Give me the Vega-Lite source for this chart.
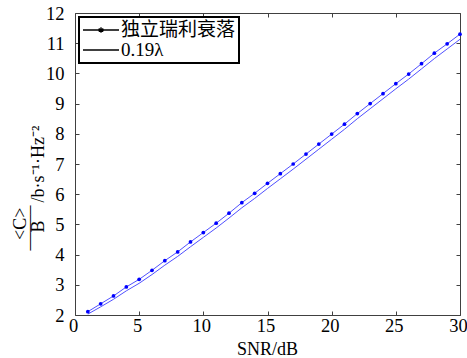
{
  "$schema": "https://vega.github.io/schema/vega-lite/v6.json",
  "width": 385,
  "height": 302,
  "autosize": "none",
  "padding": {"left": 75, "top": 13, "right": 7, "bottom": 43},
  "background": "white",
  "config": {
    "view": {"stroke": null},
    "font": "Liberation Serif",
    "axis": {
      "labelFont": "Liberation Serif",
      "labelFontSize": 18.5,
      "labelColor": "black",
      "domainColor": "#404040",
      "tickColor": "#404040",
      "tickSize": -4,
      "grid": false,
      "titleFont": "Liberation Serif",
      "titleFontWeight": "normal",
      "titleColor": "black",
      "titleFontSize": 18,
      "domainWidth": 1,
      "tickWidth": 1,
      "labelFlush": false
    }
  },
  "data": {
    "values": [
      {"x": 1, "y": 2.11, "series": "独立瑞利衰落"},
      {"x": 2, "y": 2.37, "series": "独立瑞利衰落"},
      {"x": 3, "y": 2.63, "series": "独立瑞利衰落"},
      {"x": 4, "y": 2.93, "series": "独立瑞利衰落"},
      {"x": 5, "y": 3.18, "series": "独立瑞利衰落"},
      {"x": 6, "y": 3.48, "series": "独立瑞利衰落"},
      {"x": 7, "y": 3.80, "series": "独立瑞利衰落"},
      {"x": 8, "y": 4.09, "series": "独立瑞利衰落"},
      {"x": 9, "y": 4.42, "series": "独立瑞利衰落"},
      {"x": 10, "y": 4.73, "series": "独立瑞利衰落"},
      {"x": 11, "y": 5.04, "series": "独立瑞利衰落"},
      {"x": 12, "y": 5.37, "series": "独立瑞利衰落"},
      {"x": 13, "y": 5.72, "series": "独立瑞利衰落"},
      {"x": 14, "y": 6.03, "series": "独立瑞利衰落"},
      {"x": 15, "y": 6.36, "series": "独立瑞利衰落"},
      {"x": 16, "y": 6.68, "series": "独立瑞利衰落"},
      {"x": 17, "y": 7.00, "series": "独立瑞利衰落"},
      {"x": 18, "y": 7.33, "series": "独立瑞利衰落"},
      {"x": 19, "y": 7.66, "series": "独立瑞利衰落"},
      {"x": 20, "y": 7.99, "series": "独立瑞利衰落"},
      {"x": 21, "y": 8.32, "series": "独立瑞利衰落"},
      {"x": 22, "y": 8.67, "series": "独立瑞利衰落"},
      {"x": 23, "y": 9.00, "series": "独立瑞利衰落"},
      {"x": 24, "y": 9.33, "series": "独立瑞利衰落"},
      {"x": 25, "y": 9.66, "series": "独立瑞利衰落"},
      {"x": 26, "y": 9.98, "series": "独立瑞利衰落"},
      {"x": 27, "y": 10.32, "series": "独立瑞利衰落"},
      {"x": 28, "y": 10.67, "series": "独立瑞利衰落"},
      {"x": 29, "y": 10.98, "series": "独立瑞利衰落"},
      {"x": 30, "y": 11.30, "series": "独立瑞利衰落"},
      {"x": 1, "y": 2.03, "series": "0.19λ"},
      {"x": 2, "y": 2.27, "series": "0.19λ"},
      {"x": 3, "y": 2.52, "series": "0.19λ"},
      {"x": 4, "y": 2.80, "series": "0.19λ"},
      {"x": 5, "y": 3.05, "series": "0.19λ"},
      {"x": 6, "y": 3.34, "series": "0.19λ"},
      {"x": 7, "y": 3.65, "series": "0.19λ"},
      {"x": 8, "y": 3.94, "series": "0.19λ"},
      {"x": 9, "y": 4.26, "series": "0.19λ"},
      {"x": 10, "y": 4.57, "series": "0.19λ"},
      {"x": 11, "y": 4.88, "series": "0.19λ"},
      {"x": 12, "y": 5.21, "series": "0.19λ"},
      {"x": 13, "y": 5.55, "series": "0.19λ"},
      {"x": 14, "y": 5.86, "series": "0.19λ"},
      {"x": 15, "y": 6.19, "series": "0.19λ"},
      {"x": 16, "y": 6.51, "series": "0.19λ"},
      {"x": 17, "y": 6.83, "series": "0.19λ"},
      {"x": 18, "y": 7.16, "series": "0.19λ"},
      {"x": 19, "y": 7.49, "series": "0.19λ"},
      {"x": 20, "y": 7.82, "series": "0.19λ"},
      {"x": 21, "y": 8.15, "series": "0.19λ"},
      {"x": 22, "y": 8.50, "series": "0.19λ"},
      {"x": 23, "y": 8.83, "series": "0.19λ"},
      {"x": 24, "y": 9.16, "series": "0.19λ"},
      {"x": 25, "y": 9.49, "series": "0.19λ"},
      {"x": 26, "y": 9.81, "series": "0.19λ"},
      {"x": 27, "y": 10.15, "series": "0.19λ"},
      {"x": 28, "y": 10.49, "series": "0.19λ"},
      {"x": 29, "y": 10.81, "series": "0.19λ"},
      {"x": 30, "y": 11.13, "series": "0.19λ"}
    ]
  },
  "layer": [
    {
      "mark": {"type": "line", "strokeWidth": 1, "clip": true, "color": "#5050ff"},
      "encoding": {
        "x": {
          "field": "x", "type": "quantitative",
          "scale": {"domain": [0, 30], "nice": false, "zero": false},
          "axis": {
            "orient": "bottom",
            "values": [0, 5, 10, 15, 20, 25, 30],
            "labelPadding": 5.5,
            "labelOffset": -2,
            "title": "SNR/dB",
            "titleBaseline": "alphabetic",
            "titleY": 39,
            "titleX": 192
          }
        },
        "y": {
          "field": "y", "type": "quantitative",
          "scale": {"domain": [2, 12], "nice": false, "zero": false},
          "axis": {
            "orient": "left",
            "values": [2, 3, 4, 5, 6, 7, 8, 9, 10, 11, 12],
            "labelPadding": 15,
            "title": ["\u200b\u2002\u200a<C>", "——–", "\u200b\u2002\u2002B\u2002\u2002/b·s⁻¹·Hz⁻²"],
            "titleAngle": -90,
            "titleAlign": "left",
            "titleBaseline": "alphabetic",
            "titleX": -50,
            "titleY": 237,
            "titleLineHeight": 9.3
          }
        },
        "detail": {"field": "series", "type": "nominal"}
      }
    },
    {
      "transform": [{"filter": "datum.series === '独立瑞利衰落'"}],
      "mark": {"type": "point", "filled": true, "size": 14, "color": "#0000ff", "opacity": 1},
      "encoding": {
        "x": {
          "field": "x", "type": "quantitative",
          "scale": {"domain": [0, 30], "nice": false, "zero": false},
          "axis": {"orient": "top", "values": [0, 5, 10, 15, 20, 25, 30], "labels": false, "title": null}
        },
        "y": {
          "field": "y", "type": "quantitative",
          "scale": {"domain": [2, 12], "nice": false, "zero": false},
          "axis": {"orient": "right", "values": [2, 3, 4, 5, 6, 7, 8, 9, 10, 11, 12], "labels": false, "title": null}
        }
      }
    },
    {
      "transform": [{"filter": "datum.x < 0"}],
      "mark": {"type": "line", "strokeWidth": 1.3},
      "encoding": {
        "x": {
          "field": "x", "type": "quantitative",
          "scale": {"domain": [0, 30], "nice": false, "zero": false},
          "axis": null
        },
        "y": {
          "field": "y", "type": "quantitative",
          "scale": {"domain": [2, 12], "nice": false, "zero": false},
          "axis": null
        },
        "color": {
          "field": "series", "type": "nominal",
          "scale": {"domain": ["独立瑞利衰落", "0.19λ"], "range": ["black", "black"]},
          "legend": {
            "orient": "top-left",
            "offset": 4,
            "title": null,
            "padding": 3,
            "rowPadding": 0,
            "labelFont": "Liberation Serif, Noto Sans CJK SC",
            "labelFontSize": 19,
            "labelColor": "black",
            "labelOffset": 19,
            "symbolSize": 324,
            "symbolStrokeWidth": 1.3,
            "fillColor": "white",
            "strokeColor": "black",
            "encode": {
              "symbols": {
                "update": {
                  "shape": {"signal": "datum.value === '独立瑞利衰落' ? 'M-1,0H3M1,-0.3V0.3M0.74,-0.15L1.26,0.15M0.74,0.15L1.26,-0.15' : 'M-1,0H3'"},
                  "fill": {"value": "transparent"}
                }
              },
              "legend": {"update": {"strokeWidth": {"value": 2}}}
            }
          }
        }
      }
    }
  ],
  "resolve": {"scale": {"x": "independent", "y": "independent"}}
}
